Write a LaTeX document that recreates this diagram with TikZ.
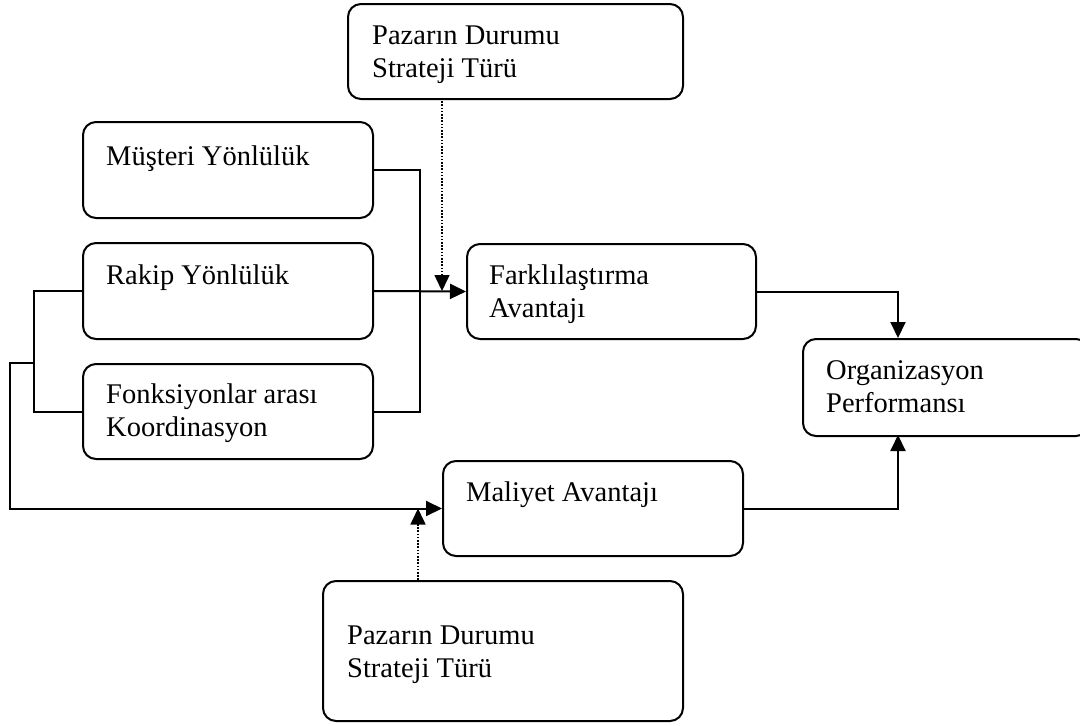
\documentclass[tikz,border=0pt]{standalone}
\usepackage{fontspec}
\setmainfont{Liberation Serif}
\usetikzlibrary{arrows.meta,calc}
\begin{document}
\begin{tikzpicture}[x=1pt,y=-1pt,
  box/.style={draw, line width=2pt, rounded corners=13pt, anchor=north west, inner sep=0pt},
  lbl/.style={anchor=base west, inner sep=0pt, font=\fontsize{28.5}{32.5}\selectfont, align=left},
  wire/.style={line width=2pt},
  arr/.style={wire, -{Triangle[length=16pt,width=15pt]}},
  dotarr/.style={line width=1.5pt, dash pattern=on 1.6pt off 1.6pt, -{Triangle[length=16pt,width=15pt]}}]
\useasboundingbox (0,0) rectangle (1080,726);

% boxes
\node[box, minimum width=335pt, minimum height=95pt] (top) at (347,3) {};
\node[box, minimum width=290pt, minimum height=96pt] (mus) at (82,121) {};
\node[box, minimum width=290pt, minimum height=96pt] (rak) at (82,242) {};
\node[box, minimum width=290pt, minimum height=95pt] (fon) at (82,363) {};
\node[box, minimum width=289pt, minimum height=95pt] (far) at (466,243) {};
\node[box, minimum width=286pt, minimum height=97pt] (org) at (802,338) {};
\node[box, minimum width=300pt, minimum height=95pt] (mal) at (442,460) {};
\node[box, minimum width=360pt, minimum height=140pt] (bot) at (322,580) {};

% labels (base = baseline of the last line)
\node[lbl] (toptxt) at (372,77) {Pazarın Durumu\\Strateji Türü};
\node[lbl] (mustxt) at (106,165) {Müşteri Yönlülük};
\node[lbl] (raktxt) at (106,284) {Rakip Yönlülük};
\node[lbl] (fontxt) at (106,436) {Fonksiyonlar arası\\Koordinasyon};
\node[lbl] (fartxt) at (489,317) {Farklılaştırma\\Avantajı};
\node[lbl] (orgtxt) at (826,412) {Organizasyon\\Performansı};
\node[lbl] (maltxt) at (466,501) {Maliyet Avantajı};
\node[lbl] (bottxt) at (347,677) {Pazarın Durumu\\Strateji Türü};

% junction points
\coordinate (lj) at (34,363);
\coordinate (outer) at (10,363);
\coordinate (topdrop) at (442,98);
\coordinate (botrise) at (418,580);
\coordinate (orgin) at (898,338);
\coordinate (orgout) at (898,435);

% connectors
\draw[wire] (mus.east) -- ++(46,0) |- (fon.east);
\draw[arr] (rak.east) -- (far.west);
\draw[wire] (rak.west) -- ++(-48,0) |- (fon.west);
\draw[arr] (lj) -- (outer) |- (mal.west);
\draw[dotarr] (topdrop) -- (topdrop |- rak.east);
\draw[dotarr] (botrise) -- (botrise |- mal.west);
\draw[arr] (far.east) -| (orgin);
\draw[arr] (mal.east) -| (orgout);
\end{tikzpicture}
\end{document}
